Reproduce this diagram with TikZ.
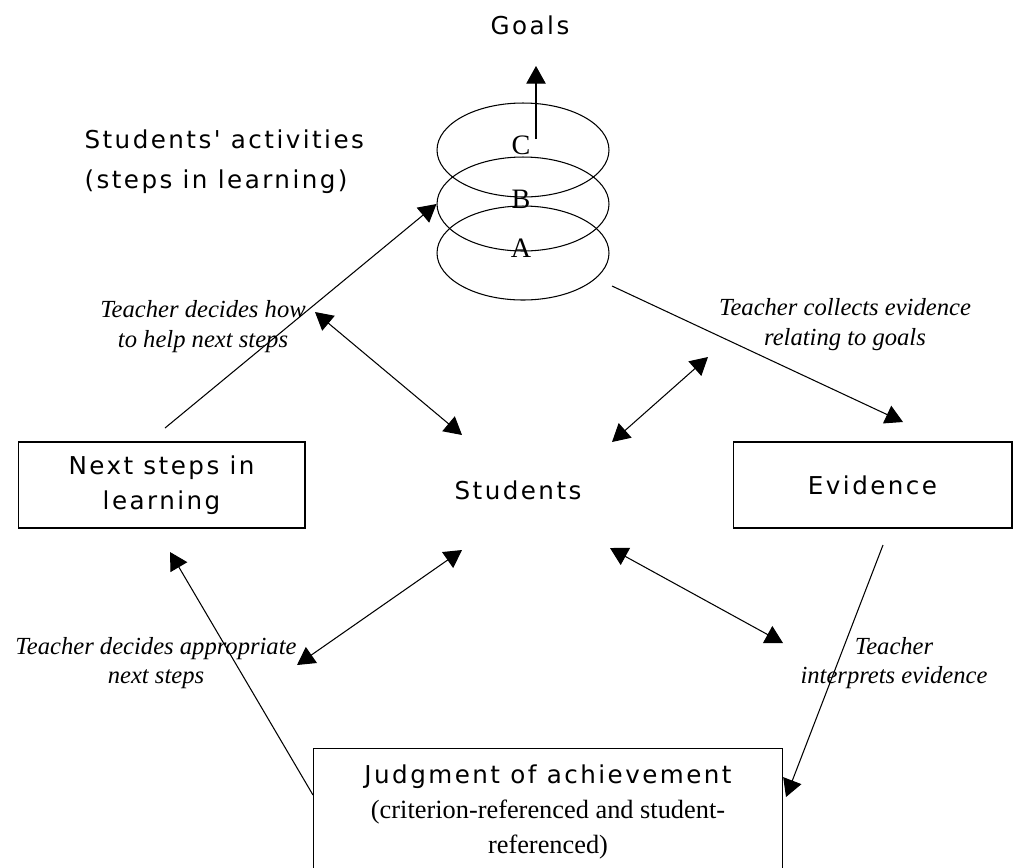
\documentclass[tikz,border=0pt]{standalone}
\usepackage{fontspec}
\setmainfont{Liberation Serif}
\newfontfamily\boxfont[LetterSpace=10]{DejaVu Sans}
\newcommand\critfont{\rmfamily\fontsize{15}{21}\selectfont}
\usetikzlibrary{positioning, arrows.meta, shapes.geometric}

\begin{document}
\begin{tikzpicture}[x=0.02cm, y=-0.02cm, line width=0.6pt,
	>={Triangle[width=11pt,length=10pt]},
	lbl/.style={font=\boxfont\fontsize{14}{20}\selectfont, align=center, inner sep=0},
	box/.style={lbl, draw, rectangle},
	note/.style={font=\itshape\fontsize{14}{17}\selectfont, align=center, inner sep=0},
	ring/.style={draw, ellipse, minimum width=3.44cm, minimum height=1.88cm, inner sep=0},
	letter/.style={font=\fontsize{16}{16}\selectfont, inner sep=0}]
\useasboundingbox (0,0) rectangle (1013,867);

% the three levels of learning
\foreach \y/\n in {253/A,204/B,150/C} {
	\node[ring] (ring\n) at (523,\y) {};
	\node[letter] (let\n) at (521,\y-5) {\n};
};
\node[lbl] (goals) at (530,25) {Goals};
\node[lbl, align=left, anchor=west, font=\boxfont\fontsize{14}{22.7}\selectfont] (activities) at (84,162) {Students' activities\\(steps in learning)};

% boxes
\node[box, minimum width=5.74cm, minimum height=1.72cm] (next) at (161.5,485) {Next steps in\\learning};
\node[box, minimum width=5.58cm, minimum height=1.72cm] (evidence) at (872.5,485) {Evidence};
\node[box, minimum width=9.4cm, minimum height=2.56cm] (judge) at (548,812) {Judgment of achievement\\
	\critfont (criterion-referenced and student-\\\critfont referenced)};
\node[lbl] (students) at (518,490) {Students};

% teacher notes
\node[note] (howhelp) at (203,327) {Teacher decides how\\to help next steps};
\node[note] (collect) at (845,325) {Teacher collects evidence\\relating to goals};
\node[note] (appropriate) at (156,663) {Teacher decides appropriate\\next steps};
\node[note] (interpret) at (894,663) {Teacher\\interprets evidence};

% free ends
\coordinate (stemC) at (536,139);
\coordinate (goalTip) at (536,66);
\coordinate (nextOut) at (165,428);
\coordinate (ringOut) at (612,286);
\coordinate (evIn) at (903,422);
\coordinate (evOut) at (883,545);
\coordinate (judgeIn) at (786,797);
\coordinate (judgeOut) at (313,795);
\coordinate (nextIn) at (170,552);

\draw[->] (stemC) -- (goalTip);
\draw[->] (nextOut) -- (ringB.west);
\draw[->] (ringOut) -- (evIn);
\draw[->] (evOut) -- (judgeIn);
\draw[->] (judgeOut) -- (nextIn);

% to and from the students
\foreach \n/\xa/\ya/\xb/\yb in {nw/315/312/462/435, ne/708/357/612/442, sw/297/665/462/550, se/783/643/610/548} {
	\coordinate (out\n) at (\xa,\ya);
	\coordinate (in\n) at (\xb,\yb);
	\draw[<->] (out\n) -- (in\n);
};
\end{tikzpicture}
\end{document}
